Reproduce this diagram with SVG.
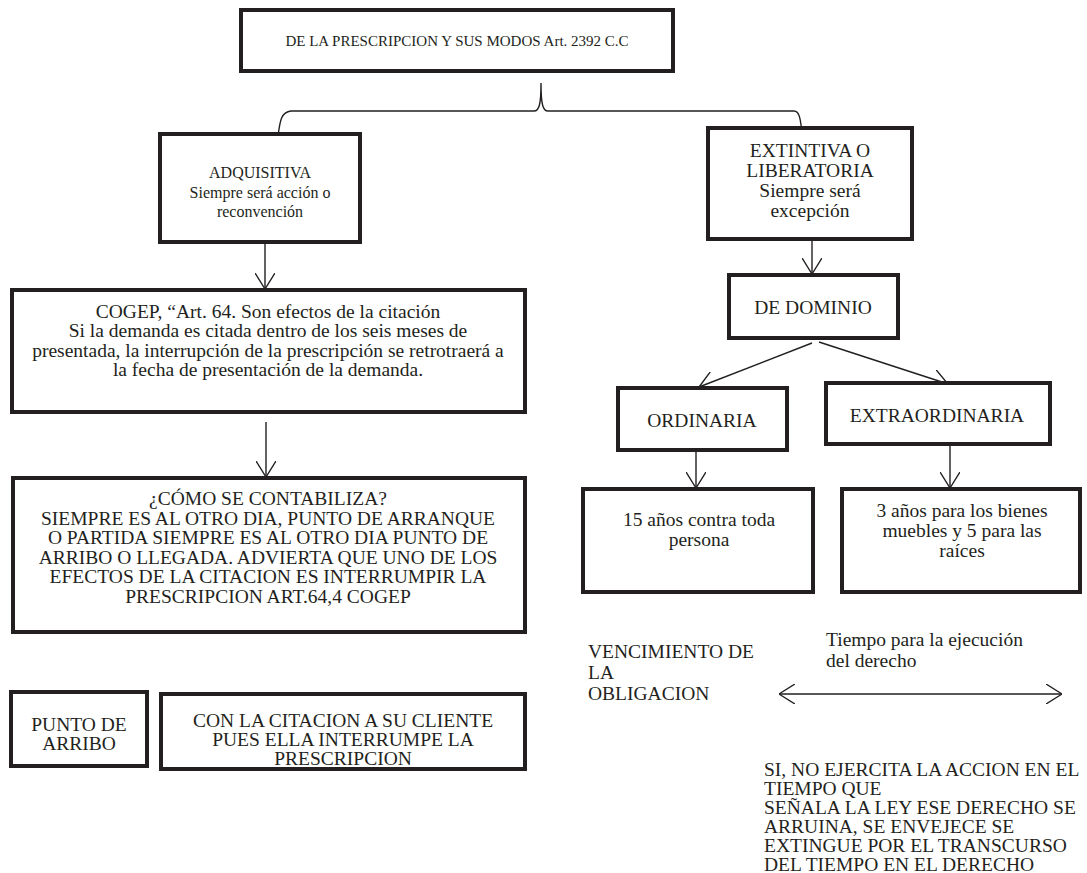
<svg xmlns="http://www.w3.org/2000/svg" width="1087" height="873" viewBox="0 0 1087 873">
<style>
.box{fill:#fff;stroke:#231f20;stroke-width:4}
text{font-family:"Liberation Serif","Times New Roman",serif;font-size:19.5px;fill:#231f20}
.c{text-anchor:middle}
.s{font-size:16px}
.t{font-size:15px}
.ln{fill:none;stroke:#231f20;stroke-width:1.4}
</style>
<defs>
<marker id="ah" viewBox="0 0 16 20" refX="16" refY="10" markerWidth="16" markerHeight="20" markerUnits="userSpaceOnUse" orient="auto-start-reverse">
<path d="M0,0 L16,10 L0,20" fill="none" stroke="#231f20" stroke-width="1.4"/>
</marker>
</defs>
<rect width="1087" height="873" fill="#fff"/>

<g id="connectors">
<path class="ln" d="M278,136 C280,121 281,112 291,111 L534,111 C539,111 541,105 541,83 C541,105 543,111 548,111 L794,111 C799,111 801,118 802,137"/>
<line class="ln" x1="265" y1="243" x2="265" y2="289" marker-end="url(#ah)"/>
<line class="ln" x1="266" y1="422" x2="266" y2="477" marker-end="url(#ah)"/>
<line class="ln" x1="812" y1="240" x2="812" y2="274" marker-end="url(#ah)"/>
<line class="ln" x1="812" y1="343" x2="699" y2="387" marker-end="url(#ah)"/>
<line class="ln" x1="819" y1="342" x2="948" y2="384" marker-end="url(#ah)"/>
<line class="ln" x1="696" y1="450" x2="696" y2="488" marker-end="url(#ah)"/>
<line class="ln" x1="950" y1="444" x2="950" y2="488" marker-end="url(#ah)"/>
<line class="ln" x1="779" y1="694" x2="1062" y2="694" marker-start="url(#ah)" marker-end="url(#ah)"/>
</g>

<g id="title">
<rect class="box" x="241" y="10" width="432" height="61"/>
<text class="c t" x="457" y="45.5">DE LA PRESCRIPCION Y SUS MODOS Art. 2392 C.C</text>
</g>

<g id="adquisitiva">
<rect class="box" x="160" y="134" width="200" height="108"/>
<text class="c s" x="260" y="178"><tspan x="260">ADQUISITIVA</tspan><tspan x="260" dy="19.5">Siempre será acción o</tspan><tspan x="260" dy="19.5">reconvención</tspan></text>
</g>

<g id="extintiva">
<rect class="box" x="708" y="128" width="204" height="111"/>
<text class="c" x="810" y="157"><tspan x="810">EXTINTIVA O</tspan><tspan x="810" dy="20">LIBERATORIA</tspan><tspan x="810" dy="20">Siempre será</tspan><tspan x="810" dy="20">excepción</tspan></text>
</g>

<g id="cogep">
<rect class="box" x="12" y="290" width="513" height="122"/>
<text class="c" x="268" y="317.5"><tspan x="268">COGEP, “Art. 64. Son efectos de la citación</tspan><tspan x="268" dy="19.5">Si la demanda es citada dentro de los seis meses de</tspan><tspan x="268" dy="19.5">presentada, la interrupción de la prescripción se retrotraerá a</tspan><tspan x="268" dy="19.5">la fecha de presentación de la demanda.</tspan></text>
</g>

<g id="como">
<rect class="box" x="13" y="478" width="512" height="154"/>
<text class="c" x="268" y="505"><tspan x="268">¿CÓMO SE CONTABILIZA?</tspan><tspan x="268" dy="19.5">SIEMPRE ES AL OTRO DIA, PUNTO DE ARRANQUE</tspan><tspan x="268" dy="19.5">O PARTIDA SIEMPRE ES AL OTRO DIA PUNTO DE</tspan><tspan x="268" dy="19.5">ARRIBO O LLEGADA. ADVIERTA QUE UNO DE LOS</tspan><tspan x="268" dy="19.5">EFECTOS DE LA CITACION ES INTERRUMPIR LA</tspan><tspan x="268" dy="19.5">PRESCRIPCION ART.64,4 COGEP</tspan></text>
</g>

<g id="punto">
<rect class="box" x="11" y="692" width="136" height="74"/>
<text class="c" x="79" y="730.5"><tspan x="79">PUNTO DE</tspan><tspan x="79" dy="19.5">ARRIBO</tspan></text>
</g>

<g id="citacion">
<rect class="box" x="161" y="694" width="364" height="75"/>
<text class="c" x="343" y="726.5"><tspan x="343">CON LA CITACION A SU CLIENTE</tspan><tspan x="343" dy="19">PUES ELLA INTERRUMPE LA</tspan><tspan x="343" dy="19">PRESCRIPCION</tspan></text>
</g>

<g id="dominio">
<rect class="box" x="729" y="275" width="169" height="63"/>
<text class="c" x="813" y="314">DE DOMINIO</text>
</g>

<g id="ordinaria">
<rect class="box" x="618" y="388" width="169" height="62"/>
<text class="c" x="702" y="427">ORDINARIA</text>
</g>

<g id="extraordinaria">
<rect class="box" x="826" y="383" width="224" height="61"/>
<text class="c" x="937" y="422">EXTRAORDINARIA</text>
</g>

<g id="quince">
<rect class="box" x="583" y="489" width="230" height="103"/>
<text class="c" x="699" y="526"><tspan x="699">15 años contra toda</tspan><tspan x="699" dy="20">persona</tspan></text>
</g>

<g id="tres">
<rect class="box" x="842" y="489" width="238" height="103"/>
<text class="c" x="962" y="517"><tspan x="962">3 años para los bienes</tspan><tspan x="962" dy="20">muebles y 5 para las</tspan><tspan x="962" dy="20">raíces</tspan></text>
</g>

<g id="vencimiento">
<text x="588" y="657.5"><tspan x="588">VENCIMIENTO DE</tspan><tspan x="588" dy="21">LA</tspan><tspan x="588" dy="21">OBLIGACION</tspan></text>
</g>

<g id="tiempo">
<text x="826" y="646"><tspan x="826">Tiempo para la ejecución</tspan><tspan x="826" dy="20.5">del derecho</tspan></text>
</g>

<g id="nota">
<text x="764" y="775.5"><tspan x="764">SI, NO EJERCITA LA ACCION EN EL</tspan><tspan x="764" dy="19">TIEMPO QUE</tspan><tspan x="764" dy="19">SEÑALA LA LEY ESE DERECHO SE</tspan><tspan x="764" dy="19">ARRUINA, SE ENVEJECE SE</tspan><tspan x="764" dy="19">EXTINGUE POR EL  TRANSCURSO</tspan><tspan x="764" dy="19">DEL TIEMPO EN EL DERECHO</tspan></text>
</g>
</svg>
